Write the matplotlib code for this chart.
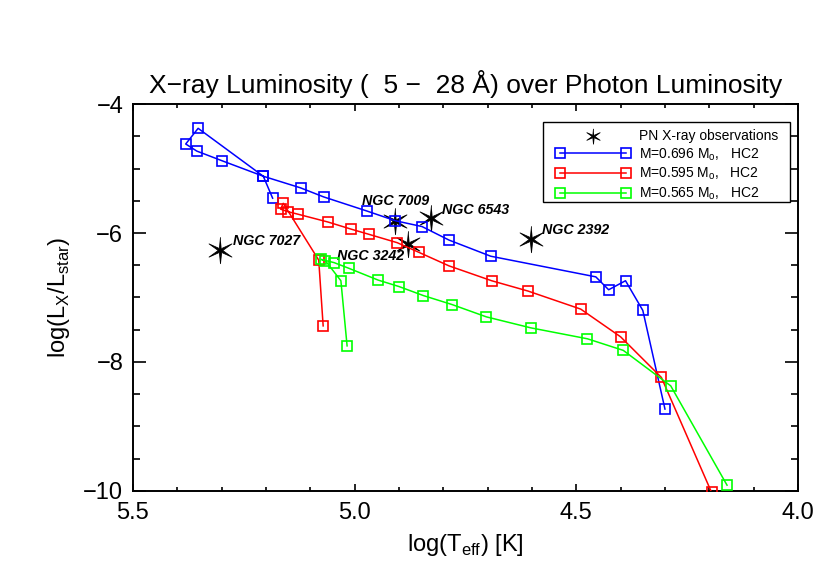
import numpy as np
import matplotlib
matplotlib.use("Agg")
import matplotlib.pyplot as plt
from matplotlib.ticker import MultipleLocator
from matplotlib.patches import Rectangle

plt.rcParams['font.family'] = ['Liberation Sans', 'DejaVu Sans']

# PN X-ray observations
pn_names = ['NGC 7027', 'NGC 7009', 'NGC 6543', 'NGC 3242', 'NGC 2392']
pn_logt = [5.303, 4.909, 4.827, 4.879, 4.603]
pn_lx = [-6.26, -5.81, -5.77, -6.17, -6.09]

# model tracks (cool end first)
m696_logt = [4.300, 4.350, 4.389, 4.427, 4.456, 4.693, 4.787, 4.848, 4.908, 4.972,
             5.070, 5.122, 5.206, 5.299, 5.356, 5.381, 5.353, 5.206, 5.185]
m696_lx = [-8.73, -7.20, -6.74, -6.88, -6.68, -6.36, -6.11, -5.90, -5.81, -5.66,
           -5.44, -5.30, -5.12, -4.88, -4.73, -4.62, -4.377, -5.12, -5.46]

m595_logt = [4.195, 4.308, 4.400, 4.490, 4.609, 4.691, 4.787, 4.855, 4.904, 4.968,
             5.008, 5.060, 5.127, 5.150, 5.167, 5.161, 5.081, 5.071]
m595_lx = [-10.02, -8.24, -7.61, -7.18, -6.90, -6.74, -6.51, -6.30, -6.15, -6.02,
           -5.94, -5.83, -5.71, -5.67, -5.63, -5.54, -6.42, -7.44]

m565_logt = [4.160, 4.287, 4.394, 4.475, 4.603, 4.703, 4.780, 4.845, 4.900, 4.947,
             5.012, 5.046, 5.075, 5.066, 5.031, 5.017]
m565_lx = [-9.91, -8.37, -7.82, -7.64, -7.47, -7.30, -7.11, -6.97, -6.83, -6.73,
           -6.55, -6.46, -6.41, -6.43, -6.74, -7.75]

# label offsets (points) for the PN names
offsets = [(9, 6), (-24, 14), (8, 6), (-51, -9), (8, 6)]

# thin six-armed star like the IDL symbol
ang = np.pi / 2 + np.arange(12) * np.pi / 6
rad = np.where(np.arange(12) % 2 == 0, 1.0, 0.17)
star = list(zip(rad * np.cos(ang), rad * np.sin(ang)))

fig = plt.figure(figsize=(8.3, 5.61), dpi=100)
ax = fig.add_axes([0.1602, 0.1248, 0.8012, 0.6898])

ax.scatter(pn_logt, pn_lx, marker=star, s=19**2, color='black', linewidths=0.6,
           zorder=2, label='PN X-ray observations')
for name, x, y, off in zip(pn_names, pn_logt, pn_lx, offsets):
    ax.annotate(name, (x, y), xytext=off, textcoords='offset points',
                fontsize=10.3, fontweight='bold', fontstyle='italic', va='center')

sq = dict(marker='s', ms=7.5, mfc='none', mew=1.2, lw=1.1, zorder=3)
ax.plot(m696_logt, m696_lx, color='blue', label=r'M=0.696 M$_\mathregular{o}$,   HC2', **sq)
ax.plot(m595_logt, m595_lx, color='red', label=r'M=0.595 M$_\mathregular{o}$,   HC2', **sq)
ax.plot(m565_logt, m565_lx, color='lime', label=r'M=0.565 M$_\mathregular{o}$,   HC2', **sq)

ax.set_xlim(5.5, 4.0)
ax.set_ylim(-10, -4)
ax.set_xticks([5.5, 5.0, 4.5, 4.0])
ax.set_xticklabels(['5.5', '5.0', '4.5', '4.0'])
ax.xaxis.set_minor_locator(MultipleLocator(0.1))
ax.yaxis.set_major_locator(MultipleLocator(2))
ax.yaxis.set_minor_locator(MultipleLocator(0.5))
ax.tick_params(which='both', direction='in', top=True, right=True, width=1.2,
               labelsize=17)
ax.tick_params(axis='x', which='major', length=5, pad=8)
ax.tick_params(axis='x', which='minor', length=3)
ax.tick_params(axis='y', which='major', length=9.5, pad=7)
ax.tick_params(axis='y', which='minor', length=5)
for s in ax.spines.values():
    s.set_linewidth(1.4)

ax.set_xlabel(r'log(T$_\mathregular{eff}$) [K]', fontsize=17, labelpad=6)
ax.set_ylabel(r'log(L$_\mathregular{X}$/L$_\mathregular{star}$)', fontsize=17, labelpad=8)
ax.set_title('X\u2212ray Luminosity (  5 \u2212  28 \u00c5) over Photon Luminosity',
             fontsize=19, pad=8)

# legend box drawn separately so the inner padding matches
ax.add_patch(Rectangle((0.6165, 0.7468), 0.3715, 0.2067, transform=ax.transAxes,
                       facecolor='white', edgecolor='black', lw=1.0, zorder=4))
leg = ax.legend(loc='upper left', bbox_to_anchor=(0.636, 0.936), fontsize=10,
                numpoints=2, scatterpoints=1, handlelength=5.37, handletextpad=0.58,
                labelspacing=0.24, borderpad=0, frameon=False, borderaxespad=0)
leg.set_zorder(5)
leg.legend_handles[0].set_sizes([11**2])

fig.savefig('out.png', dpi=100)
